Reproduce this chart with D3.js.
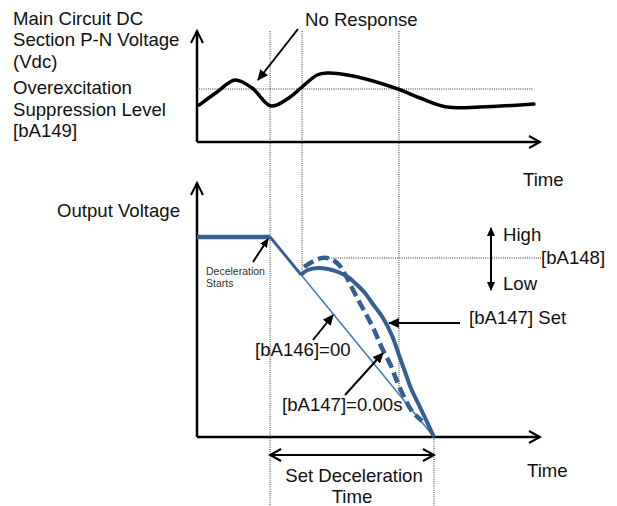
<!DOCTYPE html>
<html><head><meta charset="utf-8">
<script src="https://cdn.jsdelivr.net/npm/d3@7"></script>
<style>
html,body{margin:0;padding:0;background:#fff;}
svg{display:block;font-family:"Liberation Sans",Arial,sans-serif;}
</style></head>
<body>
<script>
// ---- data (time in arbitrary units 0..100, values in % of axis height) ----
const eventTimes = [21.5, 30.9, 59.4, 69.7]; // decel start, response start, level crossing, decel end
const vdcTime  = [0.6, 5.9, 11.2, 16.2, 21.8, 27.4, 30.9, 35.3, 38.2, 45.9, 59.1, 65.6, 73.5, 83.2, 99.1];
const vdcValue = [33.6, 45.5, 56.4, 49.1, 32.7, 40.9, 50, 60.9, 62.7, 60, 48.2, 40, 31.8, 31.8, 34.5];
const suppressionLevel = 48.2;
const flatTime = [0, 21.5];
const flatValue = [80, 80];
const rampTime = [21.5, 69.7];          // [bA146]=00 : plain ramp
const rampValue = [80, 0];
const leadTime = [21.5, 30.6];
const leadValue = [80, 64.9];
const setTime  = [30.6, 32.6, 35.6, 38.5, 41.5, 44.4, 46.8, 49.4, 51.5, 54.7, 57.4, 59.4, 61.2, 62.9, 65, 67.1, 69.7]; // [bA147] set
const setValue = [64.9, 66.8, 67.6, 67.2, 66, 64, 61.2, 57.6, 53.6, 47.6, 40.4, 32.8, 26, 19.6, 13.6, 7.6, 0];
const zeroTime  = [31.5, 33.8, 36.8, 39.4, 41.8, 43.8, 45.9, 47.9, 50, 52.1, 54.4, 56.8, 58.8, 60.9, 63.2, 66.2]; // [bA147]=0.00s
const zeroValue = [68, 70, 71.6, 71.2, 68.8, 64.4, 58.8, 53.6, 48.4, 42.8, 35.6, 29.2, 22.4, 16, 10.4, 6.4];
const levelA148 = 71.6;

const W = 617, H = 506;
const svg = d3.select("body").append("svg").attr("width", W).attr("height", H);

const x = d3.scaleLinear([0, 100], [197, 537]);
const yTop = d3.scaleLinear([0, 100], [142, 32]);
const yBot = d3.scaleLinear([0, 100], [437, 187]);

const thick = "#335f92", thin = "#4a7dbd";

const defs = svg.append("defs");
function arrowMarker(id, size, color) {
  defs.append("marker").attr("id", id).attr("viewBox", "0 0 10 10")
    .attr("refX", 9).attr("refY", 5).attr("markerUnits", "userSpaceOnUse")
    .attr("markerWidth", size).attr("markerHeight", size)
    .attr("orient", "auto-start-reverse")
    .append("path").attr("d", "M0,0.5 L10,5 L0,9.5 z").attr("fill", color);
}
arrowMarker("ah", 11, "#000");
arrowMarker("ahs", 9, "#000");

const zip = (a, b) => a.map((v, i) => [v, b[i]]);

// ---- axes ----
function axis(x0, y0, yTopPx, xEndPx) {
  const g = svg.append("g").attr("fill", "none").attr("stroke", "#000").attr("stroke-width", 2.5);
  g.append("path").attr("d", `M${x0},${y0} V${yTopPx} M${x0},${y0} H${xEndPx}`);
  g.append("path").attr("stroke-width", 2).attr("d", `M${x0-6},${yTopPx+12} L${x0},${yTopPx} L${x0+6},${yTopPx+12}`);
  g.append("path").attr("stroke-width", 2).attr("d", `M${xEndPx-11},${y0-6} L${xEndPx},${y0} L${xEndPx-11},${y0+6}`);
}
axis(x(0), yTop(0), 31, 540);
axis(x(0), yBot(0), 183, 540);

// ---- dotted guides ----
const dot = svg.append("g").attr("stroke", "#333").attr("stroke-width", 1).attr("stroke-dasharray", "1,1.2").attr("fill", "none");
const vEnds = [[31, 506], [31, 272], [31, 392], [yBot(0), 506]];
eventTimes.forEach((t, i) => dot.append("line").attr("x1", x(t)).attr("x2", x(t)).attr("y1", vEnds[i][0]).attr("y2", vEnds[i][1]));
dot.append("line").attr("x1", x(0)).attr("x2", 533).attr("y1", yTop(suppressionLevel)).attr("y2", yTop(suppressionLevel));
dot.append("line").attr("x1", 318).attr("x2", 541).attr("y1", yBot(levelA148)).attr("y2", yBot(levelA148));

// ---- top curve ----
const lineTop = d3.line().x(d => x(d[0])).y(d => yTop(d[1])).curve(d3.curveCatmullRom.alpha(0.5));
svg.append("path").attr("d", lineTop(zip(vdcTime, vdcValue)))
  .attr("fill", "none").attr("stroke", "#000").attr("stroke-width", 3.5).attr("stroke-linecap", "round");

// ---- bottom curves ----
const lineLin = d3.line().x(d => x(d[0])).y(d => yBot(d[1]));
const lineCurve = d3.line().x(d => x(d[0])).y(d => yBot(d[1])).curve(d3.curveCatmullRom.alpha(0.5));
svg.append("path").attr("d", lineLin(zip(rampTime, rampValue))).attr("fill", "none").attr("stroke", thin).attr("stroke-width", 1.6);
svg.append("path").attr("d", lineLin(zip(flatTime, flatValue))).attr("fill", "none").attr("stroke", thick).attr("stroke-width", 4.5);
svg.append("path").attr("d", lineLin(zip(leadTime, leadValue))).attr("fill", "none").attr("stroke", thick).attr("stroke-width", 2.8);
svg.append("path").attr("d", lineCurve(zip(zeroTime, zeroValue))).attr("fill", "none").attr("stroke", thick)
  .attr("stroke-width", 4.5).attr("stroke-dasharray", "11,5");
svg.append("path").attr("d", lineCurve(zip(setTime, setValue))).attr("fill", "none").attr("stroke", thick)
  .attr("stroke-width", 4);

// ---- annotation arrows ----
const ann = svg.append("g").attr("stroke", "#000").attr("stroke-width", 2);
function arr(x1, y1, x2, y2, m) {
  ann.append("line").attr("x1", x1).attr("y1", y1).attr("x2", x2).attr("y2", y2).attr("marker-end", `url(#${m || "ah"})`);
}
arr(298, 29, 258, 80);
arr(253, 262, 268, 239, "ahs");
arr(313, 340, 333, 315);
arr(345, 395, 383, 353);
arr(460, 323, 389, 323);
ann.append("line").attr("x1", 491).attr("x2", 491).attr("y1", 228).attr("y2", 290)
  .attr("marker-start", "url(#ahs)").attr("marker-end", "url(#ahs)");
// Set Deceleration Time double arrow
ann.append("path").attr("fill", "none").attr("d",
  `M${x(eventTimes[0])},455 H${x(eventTimes[3])} M${x(eventTimes[0])+11},449 L${x(eventTimes[0])},455 L${x(eventTimes[0])+11},461 M${x(eventTimes[3])-11},449 L${x(eventTimes[3])},455 L${x(eventTimes[3])-11},461`);

// ---- texts ----
const txt = svg.append("g").attr("fill", "#111").style("font-size", "18.6px");
function t(s, xx, yy, anchor) { txt.append("text").attr("x", xx).attr("y", yy).attr("text-anchor", anchor || "start").text(s); }
t("Main Circuit DC", 13, 25);
t("Section P-N Voltage", 13, 46);
t("(Vdc)", 13, 68);
t("Overexcitation", 13, 94);
t("Suppression Level", 13, 116);
t("[bA149]", 13, 137);
t("No Response", 305, 26);
t("Time", 523, 186);
t("Output Voltage", 57, 217);
t("High", 503, 241);
t("[bA148]", 541, 264);
t("Low", 503, 290);
t("[bA147] Set", 469, 324);
t("[bA146]=00", 255, 356);
t("[bA147]=0.00s", 282, 411);
t("Time", 527, 477);
t("Set Deceleration", 354, 482, "middle");
t("Time", 352, 503, "middle");
const small = svg.append("g").attr("fill", "#333").style("font-size", "10.5px");
small.append("text").attr("x", 206).attr("y", 275).text("Deceleration");
small.append("text").attr("x", 206).attr("y", 287).text("Starts");
</script>
</body></html>
